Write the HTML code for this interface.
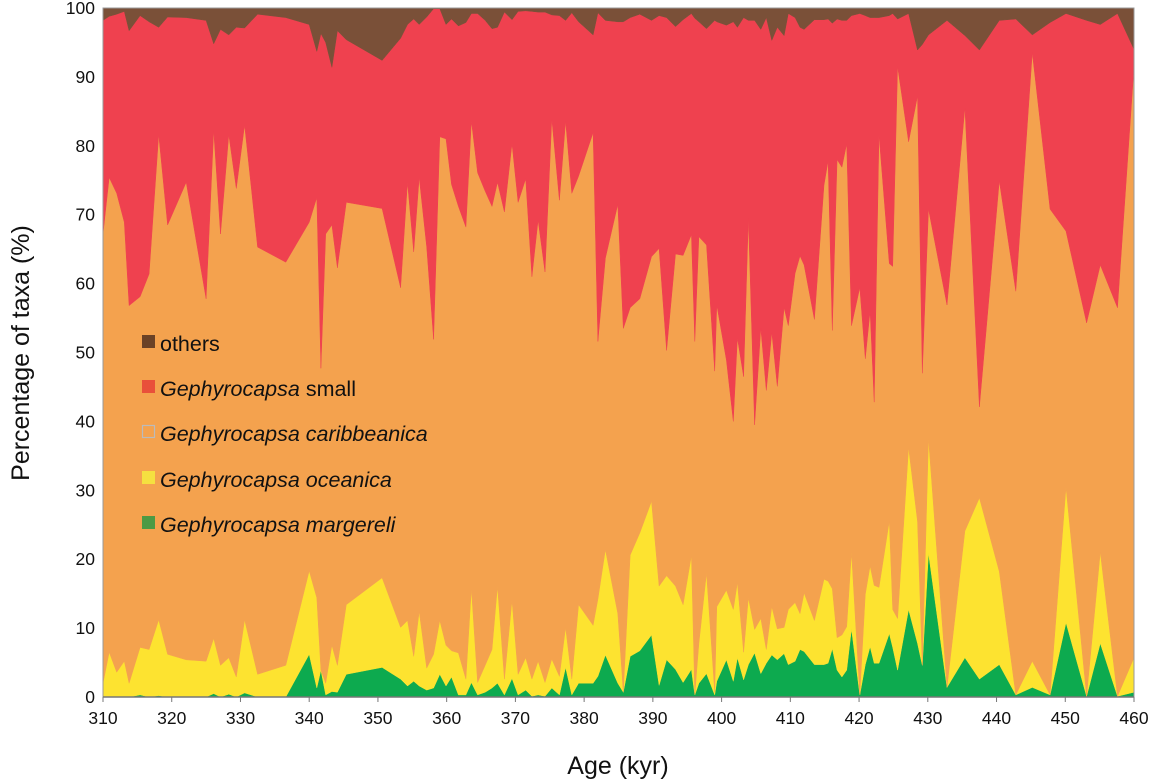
<!DOCTYPE html>
<html><head><meta charset="utf-8">
<style>
html,body{margin:0;padding:0;background:#fff;}
svg{display:block;font-family:"Liberation Sans",Arial,sans-serif;}
</style></head>
<body>
<svg id="chart" width="1151" height="779" viewBox="0 0 1151 779" xmlns="http://www.w3.org/2000/svg">
<g id="areas"></g>
<g id="axes"></g>
<text x="0" y="0" transform="translate(29,353) rotate(-90)" text-anchor="middle" font-size="25" fill="#111">Percentage of taxa (%)</text>
<text x="618" y="774" text-anchor="middle" font-size="25" fill="#111">Age (kyr)</text>
<g font-size="21.5" fill="#111">
 <g><rect x="142" y="335" width="13" height="13" fill="#6b4226"/><text x="160" y="351">others</text></g>
 <g><rect x="142" y="380" width="13" height="13" fill="#e9503a"/><text x="160" y="396"><tspan font-style="italic">Gephyrocapsa</tspan> small</text></g>
 <g><rect x="142.5" y="425.5" width="12" height="12" fill="#f4a24e" stroke="#bbb" stroke-width="1.2"/><text x="160" y="441" font-style="italic">Gephyrocapsa caribbeanica</text></g>
 <g><rect x="142" y="471" width="13" height="13" fill="#f5e040"/><text x="160" y="487" font-style="italic">Gephyrocapsa oceanica</text></g>
 <g><rect x="142" y="516" width="13" height="13" fill="#4c9a44"/><text x="160" y="532" font-style="italic">Gephyrocapsa margereli</text></g>
</g>
</svg>
<script>
// Sample ages (kyr)
const ages = [310.0,310.9,312.0,313.1,313.8,315.4,316.7,318.1,319.4,322.1,325.0,326.1,327.1,328.3,329.4,330.6,332.5,336.6,340.0,341.1,341.7,342.4,343.3,344.1,345.4,350.6,
353.3,354.3,355.2,356.0,357.1,358.1,359.0,359.9,360.7,361.7,362.8,363.6,364.5,365.6,366.6,367.4,368.4,369.5,370.4,371.5,372.4,373.3,374.3,375.3,376.4,377.3,378.2,379.2,381.3,382.0,383.1,384.9,385.7,386.7,
388.1,389.8,390.9,392.0,393.3,394.4,395.6,396.1,396.7,397.8,399.0,399.3,400.7,401.7,402.3,403.2,403.9,404.8,405.7,406.5,407.3,408.1,409.1,409.7,410.7,411.4,412.0,413.5,414.9,415.5,416.1,416.8,417.5,418.2,418.9,420.1,420.9,421.6,422.2,422.9,424.4,
424.9,425.6,427.2,428.5,429.2,430.1,432.8,435.4,437.5,440.4,442.8,445.2,447.8,450.1,453.1,455.1,457.6,460.0];
// Cumulative percentage: top of G. margereli
const cumMargereli = [0,0,0,0,0,0.3,0,0.2,0,0,0,0.5,0,0.4,0,0.6,0,0,6.2,1.3,3.9,0.3,0.8,0.7,3.3,4.3,
2.6,1.6,2.3,1.6,1.0,1.3,3.3,1.6,2.9,0.3,0.3,2.1,0.3,0.7,1.3,2.0,0.3,2.7,0.3,1.0,0.1,0.3,0.1,1.3,0.3,4.3,0.3,2.0,2.0,3.0,6.1,2.0,0.7,5.9,
6.7,9.0,1.7,5.4,4.0,2.1,4.0,0.3,2.0,3.4,0.3,2.3,5.4,2.3,5.7,2.5,4.7,6.4,3.4,4.9,6.1,5.4,6.3,4.7,5.2,6.9,6.6,4.7,4.7,4.9,7.0,3.9,2.9,3.9,9.9,0.3,4.7,7.3,4.9,4.9,9.2,
7.2,3.9,12.7,7.8,4.6,20.9,1.4,5.7,2.6,4.7,0.3,1.4,0.3,10.8,0.1,7.8,0.1,0.7];
// Cumulative percentage: top of G. oceanica
const cumOceanica = [2.0,6.5,3.6,5.2,2.0,7.2,6.9,11.2,6.2,5.4,5.2,8.5,4.6,5.7,2.9,11.2,3.3,4.6,18.3,14.4,3.9,2.0,7.5,4.6,13.4,17.3,
10.1,11.1,5.9,12.4,4.2,6.2,11.1,7.5,6.7,6.4,2.6,15.7,2.1,4.6,6.9,16.1,2.6,14.0,3.3,5.7,2.6,5.2,2.1,5.5,3.0,10.1,2.6,13.4,10.4,14.2,21.4,12.1,0.7,20.6,
23.8,28.4,16.1,17.6,16.1,13.4,20.5,0.3,7.8,18.0,0.7,13.1,15.5,12.7,16.6,6.5,14.4,9.8,11.4,6.9,13.1,9.9,10.1,12.7,13.7,12.1,15.1,11.1,17.1,16.8,15.7,8.6,9.0,10.2,21.0,0.3,14.9,19.0,16.2,15.9,25.5,
12.7,11.4,36.2,25.5,4.6,37.5,1.4,24.1,28.9,18.2,0.3,5.2,0.3,30.4,0.1,21.0,0.1,5.7];
// Cumulative percentage: top of G. caribbeanica
const cumCaribbeanica = [67.2,75.4,73.1,68.9,56.8,58.1,61.4,81.6,68.5,74.7,57.8,82.2,67.2,81.6,73.8,83.0,65.3,63.1,68.9,72.5,47.7,67.2,68.5,62.3,71.8,70.9,
59.4,74.7,64.6,75.4,65.3,51.9,81.3,81.0,74.4,71.2,68.2,83.6,76.1,73.4,71.2,74.7,70.4,80.3,71.8,75.2,61.0,69.2,61.7,83.9,72.1,83.6,73.1,75.6,81.9,51.6,63.7,71.5,53.5,56.5,
57.8,63.9,65.1,50.3,64.3,64.1,67.1,51.6,66.8,65.6,47.3,56.9,48.9,40.0,52.1,46.5,69.5,39.5,53.5,44.5,52.9,45.1,56.5,53.9,61.5,64.0,62.7,54.8,74.3,77.8,53.2,78.0,76.9,80.3,53.9,59.4,49.1,56.0,42.8,81.6,62.9,
62.5,91.5,80.6,87.2,47.0,70.8,56.9,85.5,42.1,74.9,58.9,93.5,70.8,67.6,54.3,62.7,56.5,91.4];
// Cumulative percentage: top of G. small (remainder to 100 = others)
const cumSmall = [98.2,98.8,99.1,99.5,96.7,98.9,98.0,97.2,98.7,98.6,98.2,94.8,96.9,96.1,97.2,97.1,99.1,98.6,97.6,93.7,96.3,95.0,91.4,96.7,95.4,92.4,
95.6,97.6,98.4,97.6,98.7,99.9,99.9,97.6,98.4,97.4,97.9,99.2,99.2,98.2,97.0,97.2,99.4,98.3,99.5,99.6,99.5,99.4,99.4,99.0,98.9,98.2,99.3,98.0,96.1,99.3,98.2,98.0,98.0,98.6,
99.1,98.2,98.9,98.6,97.3,98.3,99.2,98.5,98.0,97.0,98.2,98.0,97.5,98.0,97.2,98.6,98.2,98.2,96.9,98.6,95.3,97.2,96.0,99.2,98.6,97.2,96.9,98.3,98.3,98.4,97.8,98.4,98.2,98.2,98.9,99.2,98.9,98.6,98.6,98.6,98.9,
99.2,98.4,99.2,93.9,94.7,96.1,98.2,96.0,93.9,98.2,98.4,96.1,97.9,99.2,98.2,97.6,99.2,94.0];
const xTicks = [310,320,330,340,350,360,370,380,390,400,410,420,430,440,450,460];
const yTicks = [0,10,20,30,40,50,60,70,80,90,100];

const X0=103, X1=1134, Y0=697, Y1=8;
function xs(a){ return X0 + (a-310)/(460-310)*(X1-X0); }
function ys(p){ return Y0 - p/100*(Y0-Y1); }
const NS="http://www.w3.org/2000/svg";
const areas=document.getElementById('areas');
const axes=document.getElementById('axes');
const zeros = ages.map(()=>0);
const hundreds = ages.map(()=>100);
const layers = [
 ['area-margereli', zeros, cumMargereli, '#0daa4f'],
 ['area-oceanica', cumMargereli, cumOceanica, '#fde330'],
 ['area-caribbeanica', cumOceanica, cumCaribbeanica, '#f4a24e'],
 ['area-small', cumCaribbeanica, cumSmall, '#ef414f'],
 ['area-others', cumSmall, hundreds, '#7a5038']
];
layers.forEach(l=>{
  let d='';
  ages.forEach((a,i)=>{ d += (i?'L':'M') + xs(a).toFixed(1)+','+ys(l[2][i]).toFixed(1); });
  for(let i=ages.length-1;i>=0;i--){ d += 'L'+xs(ages[i]).toFixed(1)+','+ys(l[1][i]).toFixed(1); }
  d+='Z';
  const p=document.createElementNS(NS,'path');
  p.setAttribute('d',d);
  p.setAttribute('fill',l[3]);
  p.setAttribute('stroke',l[3]);
  p.setAttribute('stroke-width','0.5');
  
  
  areas.appendChild(p);
});
const fr=document.createElementNS(NS,'rect');
fr.setAttribute('x',X0);fr.setAttribute('y',Y1);fr.setAttribute('width',X1-X0);fr.setAttribute('height',Y0-Y1);
fr.setAttribute('fill','none');fr.setAttribute('stroke','#999');fr.setAttribute('stroke-width','1');


axes.appendChild(fr);
const xl=document.createElementNS(NS,'line');
xl.setAttribute('x1',X0);xl.setAttribute('x2',X1);xl.setAttribute('y1',Y0);xl.setAttribute('y2',Y0);
xl.setAttribute('stroke','#777');xl.setAttribute('stroke-width','1.5');


axes.appendChild(xl);
xTicks.forEach(t=>{
  const ln=document.createElementNS(NS,'line');
  ln.setAttribute('x1',xs(t));ln.setAttribute('x2',xs(t));ln.setAttribute('y1',Y0);ln.setAttribute('y2',Y0+5);
  ln.setAttribute('stroke','#777');
  
  
  axes.appendChild(ln);
  const tx=document.createElementNS(NS,'text');
  tx.setAttribute('x',xs(t));tx.setAttribute('y',Y0+27);tx.setAttribute('text-anchor','middle');
  tx.setAttribute('font-size','17.5');tx.setAttribute('fill','#111');
  tx.textContent=t;
  
  
  axes.appendChild(tx);
});
yTicks.forEach(t=>{
  const tx=document.createElementNS(NS,'text');
  tx.setAttribute('x',X0-8);tx.setAttribute('y',ys(t)+6);tx.setAttribute('text-anchor','end');
  tx.setAttribute('font-size','17.5');tx.setAttribute('fill','#111');
  tx.textContent=t;
  
  
  axes.appendChild(tx);
});
</script>
</body></html>
